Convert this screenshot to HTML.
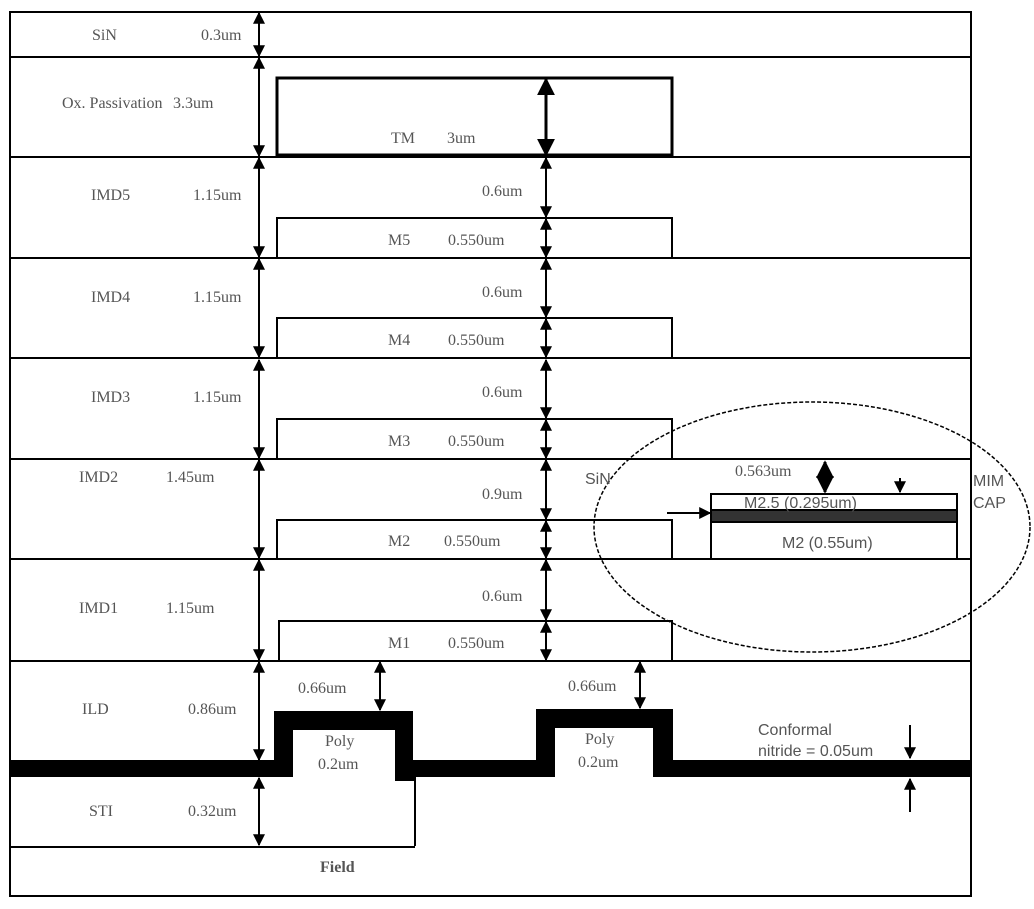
<!DOCTYPE html>
<html><head><meta charset="utf-8"><style>body{margin:0;background:#fff}svg{display:block}</style></head><body>
<svg width="1034" height="909" viewBox="0 0 1034 909" xmlns="http://www.w3.org/2000/svg">
<defs>
<marker id="a" viewBox="0 0 10 10" refX="9" refY="5" markerWidth="6" markerHeight="6" orient="auto-start-reverse"><path d="M0,0L10,5L0,10z" fill="#000"/></marker>
</defs>
<g stroke="#000" stroke-width="2" fill="none">
<rect x="10" y="12" width="961" height="884"/>
<line x1="10" y1="57" x2="971" y2="57"/>
<line x1="10" y1="157" x2="971" y2="157"/>
<line x1="10" y1="258" x2="971" y2="258"/>
<line x1="10" y1="358" x2="971" y2="358"/>
<line x1="10" y1="459" x2="971" y2="459"/>
<line x1="10" y1="559" x2="971" y2="559"/>
<line x1="10" y1="661" x2="971" y2="661"/>
<line x1="10" y1="847" x2="415" y2="847"/>
<line x1="415" y1="777" x2="415" y2="846"/>
<rect x="277" y="78" width="395" height="77" stroke-width="3"/>
<polyline points="277,258 277,218 672,218 672,258"/>
<polyline points="277,358 277,318 672,318 672,358"/>
<polyline points="277,459 277,419 672,419 672,459"/>
<polyline points="277,559 277,520 672,520 672,559"/>
<polyline points="279,661 279,621 672,621 672,661"/>
</g>
<g stroke="#000" stroke-width="2" marker-start="url(#a)" marker-end="url(#a)">
<line x1="259" y1="13" x2="259" y2="56"/>
<line x1="259" y1="58" x2="259" y2="156"/>
<line x1="259" y1="158" x2="259" y2="257"/>
<line x1="259" y1="259" x2="259" y2="357"/>
<line x1="259" y1="360" x2="259" y2="458"/>
<line x1="259" y1="460" x2="259" y2="558"/>
<line x1="259" y1="560" x2="259" y2="660"/>
<line x1="259" y1="662" x2="259" y2="760"/>
<line x1="259" y1="778" x2="259" y2="845"/>
<line x1="546" y1="79" x2="546" y2="155" stroke-width="3"/>
<line x1="546" y1="158" x2="546" y2="217"/>
<line x1="546" y1="219" x2="546" y2="257"/>
<line x1="546" y1="259" x2="546" y2="317"/>
<line x1="546" y1="319" x2="546" y2="357"/>
<line x1="546" y1="360" x2="546" y2="418"/>
<line x1="546" y1="420" x2="546" y2="458"/>
<line x1="546" y1="460" x2="546" y2="519"/>
<line x1="546" y1="521" x2="546" y2="558"/>
<line x1="546" y1="560" x2="546" y2="620"/>
<line x1="546" y1="622" x2="546" y2="660"/>
<line x1="380" y1="662" x2="380" y2="710"/>
<line x1="380" y1="731" x2="380" y2="776"/>
<line x1="640" y1="662" x2="640" y2="708"/>
<line x1="640" y1="729" x2="640" y2="776"/>
<line x1="825" y1="462" x2="825" y2="492" stroke-width="3"/>
<line x1="921" y1="525" x2="921" y2="557" stroke-width="3"/>
</g>
<g stroke="#000" stroke-width="2" marker-end="url(#a)">
<line x1="900" y1="478" x2="900" y2="492"/>
<line x1="899" y1="533" x2="899" y2="510"/>
<line x1="667" y1="513" x2="710" y2="513"/>
<line x1="910" y1="725" x2="910" y2="758"/>
<line x1="910" y1="812" x2="910" y2="779"/>
</g>
<path d="M10,760H274V711H413V760H536V709H673V760H971V777H413V781H395V777H293V730H395V777H293V777H10Z" fill="#000" fill-rule="evenodd"/>
<rect x="555" y="728" width="98" height="49" fill="#fff"/>
<rect x="293" y="730" width="102" height="47" fill="#fff"/>
<rect x="395" y="777" width="20" height="4" fill="#000"/>
<rect x="274" y="760" width="19" height="17" fill="#000"/>
<rect x="653" y="760" width="20" height="17" fill="#000"/>
<rect x="536" y="760" width="19" height="17" fill="#000"/>
<rect x="711" y="494" width="246" height="65" fill="#fff" stroke="#000" stroke-width="2"/>
<rect x="711" y="510" width="246" height="12" fill="#333" stroke="#000" stroke-width="2"/>
<ellipse cx="812" cy="527" rx="218" ry="125" fill="none" stroke="#000" stroke-width="1.5" stroke-dasharray="4,2"/>
<g font-family="Liberation Serif, serif" font-size="16" fill="#555">
<text x="92" y="40">SiN</text><text x="201" y="40">0.3um</text>
<text x="62" y="108">Ox. Passivation</text><text x="173" y="108">3.3um</text>
<text x="391" y="143">TM</text><text x="447" y="143">3um</text>
<text x="91" y="200">IMD5</text><text x="193" y="200">1.15um</text>
<text x="482" y="196">0.6um</text><text x="388" y="245">M5</text><text x="448" y="245">0.550um</text>
<text x="91" y="302">IMD4</text><text x="193" y="302">1.15um</text>
<text x="482" y="297">0.6um</text><text x="388" y="345">M4</text><text x="448" y="345">0.550um</text>
<text x="91" y="402">IMD3</text><text x="193" y="402">1.15um</text>
<text x="482" y="397">0.6um</text><text x="388" y="446">M3</text><text x="448" y="446">0.550um</text>
<text x="79" y="482">IMD2</text><text x="166" y="482">1.45um</text>
<text x="482" y="499">0.9um</text><text x="388" y="546">M2</text><text x="444" y="546">0.550um</text>
<text x="79" y="613">IMD1</text><text x="166" y="613">1.15um</text>
<text x="482" y="601">0.6um</text><text x="388" y="648">M1</text><text x="448" y="648">0.550um</text>
<text x="82" y="714">ILD</text><text x="188" y="714">0.86um</text>
<text x="298" y="693">0.66um</text><text x="568" y="691">0.66um</text>
<text x="325" y="746">Poly</text><text x="318" y="769">0.2um</text>
<text x="585" y="744">Poly</text><text x="578" y="767">0.2um</text>
<text x="89" y="816">STI</text><text x="188" y="816">0.32um</text>
<text x="320" y="872" font-weight="bold">Field</text>
<text x="735" y="476">0.563um</text>
</g>
<g font-family="Liberation Sans, sans-serif" font-size="16" fill="#555">
<text x="585" y="484">SiN</text>
<text x="744" y="508">M2.5 (0.295um)</text>
<text x="782" y="548">M2 (0.55um)</text>
<text x="973" y="486">MIM</text><text x="973" y="508">CAP</text>
<text x="758" y="735">Conformal</text><text x="758" y="756">nitride = 0.05um</text>
</g>
</svg>
</body></html>
